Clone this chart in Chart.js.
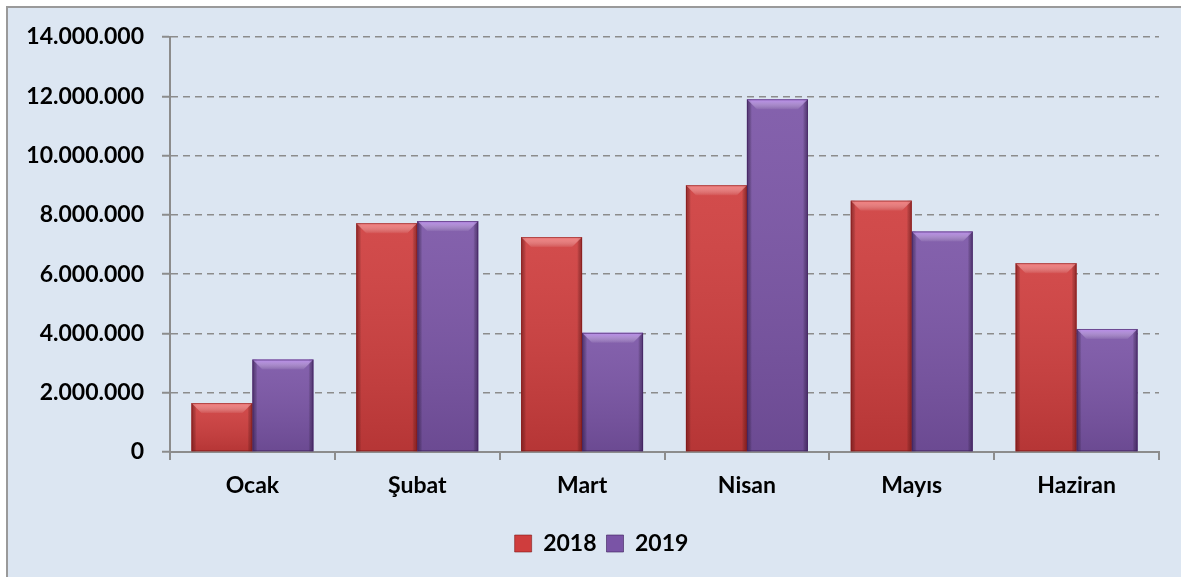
<!DOCTYPE html>
<html>
<head>
<meta charset="utf-8">
<script src="https://cdn.jsdelivr.net/npm/chart.js@4.4.1/dist/chart.umd.min.js"></script>
<style>
  html, body { margin: 0; padding: 0; background: #ffffff; overflow: hidden; }
  #frame { position: absolute; left: 6px; top: 6px; width: 1200px; height: 600px;
           border-left: 2px solid #9a9a9a; border-top: 2px solid #9a9a9a; background: #dce6f2; }
  #wrap { position: absolute; left: 0; top: 0; width: 1181px; height: 577px; }
</style>
</head>
<body>
<div id="frame"></div>
<div id="wrap"><canvas id="c" width="1181" height="577"></canvas></div>
<script>
const categories = ['Ocak', 'Şubat', 'Mart', 'Nisan', 'Mayıs', 'Haziran'];
const seriesNames = ['2018', '2019'];
const values2018 = [1650000, 7720000, 7250000, 9000000, 8480000, 6370000];
const values2019 = [3120000, 7790000, 4020000, 11900000, 7440000, 4150000];
const yTicks = [0, 2000000, 4000000, 6000000, 8000000, 10000000, 12000000, 14000000];

const baseColors = ['#cf3d3d', '#7a54a6'];
const edgeColors = ['rgba(120,20,20,0.55)', 'rgba(60,30,90,0.6)'];
const bevelColors = ['rgba(255,140,140,0.75)', 'rgba(200,150,255,0.75)'];

function fmt(v) { return String(Math.round(v)).replace(/\B(?=(\d{3})+(?!\d))/g, '.'); }

const bevelPlugin = {
  id: 'bevel',
  afterLayout(chart) {
    if (chart.legend) { chart.legend.left += 22; chart.legend.right += 22; }
  },
  afterDatasetsDraw(chart) {
    const ctx = chart.ctx;
    chart.data.datasets.forEach((ds, i) => {
      const meta = chart.getDatasetMeta(i);
      meta.data.forEach(bar => {
        const p = bar.getProps(['x', 'y', 'base', 'width'], true);
        const l = p.x - p.width / 2, r = p.x + p.width / 2, t = p.y, b = p.base;
        const h = b - t;
        ctx.save();
        let g = ctx.createLinearGradient(0, t, 0, b);
        g.addColorStop(0, 'rgba(255,255,255,0.08)');
        g.addColorStop(1, 'rgba(0,0,0,0.12)');
        ctx.fillStyle = g;
        ctx.fillRect(l, t, p.width, h);
        let e = Math.min(5, p.width / 6);
        let gl = ctx.createLinearGradient(l, 0, l + e, 0);
        gl.addColorStop(0, edgeColors[i]);
        gl.addColorStop(1, 'rgba(0,0,0,0)');
        ctx.fillStyle = gl;
        ctx.fillRect(l, t, e, h);
        let gr = ctx.createLinearGradient(r - e, 0, r, 0);
        gr.addColorStop(0, 'rgba(0,0,0,0)');
        gr.addColorStop(1, edgeColors[i]);
        ctx.fillStyle = gr;
        ctx.fillRect(r - e, t, e, h);
        const bh = Math.min(10, h / 3);
        let gt = ctx.createLinearGradient(0, t, 0, t + bh);
        gt.addColorStop(0, bevelColors[i]);
        gt.addColorStop(1, 'rgba(255,255,255,0.05)');
        ctx.fillStyle = gt;
        ctx.beginPath();
        ctx.moveTo(l, t);
        ctx.lineTo(r, t);
        ctx.lineTo(r - bh, t + bh);
        ctx.lineTo(l + bh, t + bh);
        ctx.closePath();
        ctx.fill();
        ctx.strokeStyle = edgeColors[i];
        ctx.lineWidth = 1;
        ctx.strokeRect(l + 0.5, t + 0.5, p.width - 1, h - 1);
        ctx.restore();
      });
    });
  }
};

const FONT = { family: 'Lato, "Open Sans", sans-serif', size: 23, weight: 'bold' };

new Chart(document.getElementById('c'), {
  type: 'bar',
  data: {
    labels: categories,
    datasets: [
      { label: seriesNames[0], data: values2018, backgroundColor: baseColors[0], borderWidth: 0 },
      { label: seriesNames[1], data: values2019, backgroundColor: baseColors[1], borderWidth: 0 }
    ]
  },
  plugins: [bevelPlugin],
  options: {
    responsive: false,
    animation: false,
    devicePixelRatio: 1,
    layout: { padding: { top: 37, right: 22, bottom: 12, left: 0 } },
    datasets: { bar: { categoryPercentage: 0.74, barPercentage: 1.0 } },
    plugins: {
      tooltip: { enabled: false },
      legend: {
        position: 'bottom',
        labels: {
          color: '#000', font: FONT, boxWidth: 17, boxHeight: 17, padding: 10,
          generateLabels(chart) {
            return chart.data.datasets.map((ds, i) => ({
              text: ds.label, fillStyle: baseColors[i], strokeStyle: edgeColors[i],
              lineWidth: 1, datasetIndex: i, fontColor: '#000'
            }));
          }
        }
      }
    },
    scales: {
      x: {
        offset: true,
        afterFit(scale) { scale.height = 70; },
        grid: { offset: true, drawOnChartArea: false, drawTicks: true, tickLength: 8, color: '#8c8c8c', lineWidth: 2 },
        border: { display: true, color: '#8c8c8c', width: 2 },
        ticks: { color: '#000', font: FONT, padding: 12 }
      },
      y: {
        min: 0, max: 14000000,
        afterFit(scale) { scale.width = 170; },
        afterBuildTicks(scale) { scale.ticks = yTicks.map(v => ({ value: v })); },
        grid: { color: '#8c8c8c', lineWidth: 1.5, tickLength: 8, tickColor: '#8c8c8c', tickWidth: 2, tickBorderDash: [] },
        border: { display: true, color: '#8c8c8c', width: 2, dash: [7, 5] },
        ticks: { color: '#000', font: FONT, padding: 18, callback: v => fmt(v) }
      }
    }
  }
});
</script>
</body>
</html>
